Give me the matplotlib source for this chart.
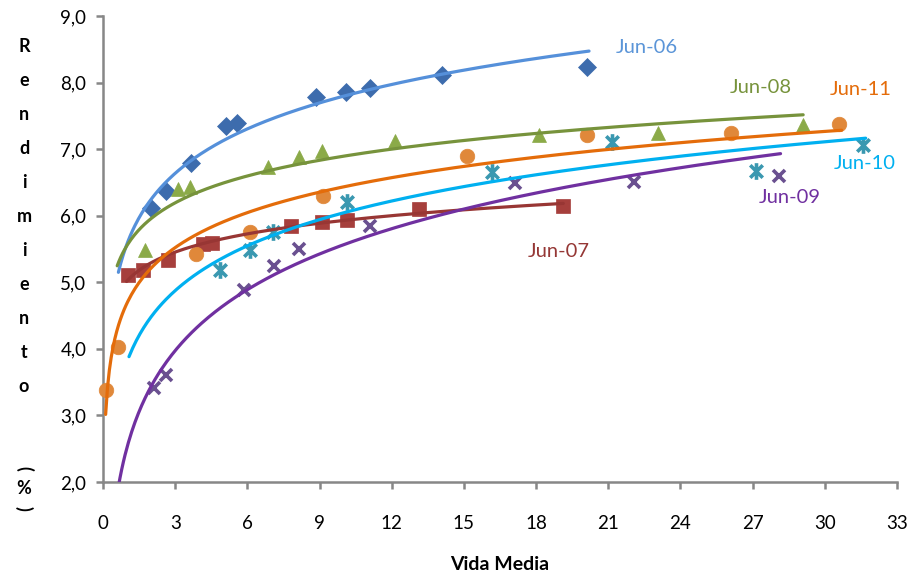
import numpy as np
import matplotlib
matplotlib.use("Agg")
import matplotlib.pyplot as plt
from matplotlib.path import Path

plt.rcParams['font.family'] = ['Lato', 'DejaVu Sans']

# Yield observations per curve date: average life (years) vs yield (%)
series_names = ["Jun-06", "Jun-07", "Jun-08", "Jun-09", "Jun-10", "Jun-11"]

jun06_x = [1.99, 2.61, 3.65, 5.10, 5.56, 8.84, 10.08, 11.08, 14.10, 20.10]
jun06_y = [6.12, 6.37, 6.79, 7.35, 7.39, 7.78, 7.86, 7.92, 8.11, 8.23]

jun07_x = [1.05, 1.65, 2.71, 4.16, 4.55, 7.83, 9.12, 10.14, 13.12, 19.13]
jun07_y = [5.11, 5.19, 5.34, 5.58, 5.59, 5.85, 5.90, 5.94, 6.10, 6.15]

jun08_x = [1.76, 3.11, 3.61, 6.85, 8.13, 9.09, 12.12, 18.13, 23.07, 29.10]
jun08_y = [5.49, 6.40, 6.43, 6.73, 6.88, 6.97, 7.12, 7.21, 7.24, 7.36]

jun09_x = [2.13, 2.60, 5.86, 7.11, 8.15, 11.11, 17.14, 22.07, 28.10]
jun09_y = [3.41, 3.61, 4.89, 5.25, 5.50, 5.84, 6.49, 6.51, 6.59]

jun10_x = [4.88, 6.10, 7.05, 10.14, 16.17, 21.15, 27.15, 31.60]
jun10_y = [5.18, 5.49, 5.76, 6.21, 6.65, 7.11, 6.67, 7.06]

jun11_x = [0.11, 0.61, 3.85, 6.13, 9.14, 15.12, 20.10, 26.10, 30.60]
jun11_y = [3.38, 4.03, 5.43, 5.76, 6.29, 6.89, 7.21, 7.25, 7.38]

# span of each logarithmic trend line (in years)
trend_start = [0.64, 0.98, 0.59, 0.50, 1.08, 0.11]
trend_end = [20.20, 19.13, 29.10, 28.16, 31.70, 30.70]

# label anchor for each curve (data coordinates)
label_x = [22.6, 18.96, 27.35, 28.55, 31.65, 31.5]
label_y = [8.52, 5.46, 7.93, 6.27, 6.79, 7.89]

x_ticks = list(range(0, 34, 3))
y_ticks = [2, 3, 4, 5, 6, 7, 8, 9]

xs = [jun06_x, jun07_x, jun08_x, jun09_x, jun10_x, jun11_x]
ys = [jun06_y, jun07_y, jun08_y, jun09_y, jun10_y, jun11_y]

marker_colors = ["#3D6CAD", "#A63F3C", "#8BAA48", "#6A5090", "#3A98B0", "#E0883A"]
line_colors = ["#5590DA", "#983634", "#77933C", "#7030A0", "#00B0F0", "#E46C0A"]
label_colors = ["#5B95D8", "#953735", "#77933C", "#7030A0", "#00B0F0", "#E46C0A"]

# asterisk-style marker: vertical bar plus an X
star_path = Path(
    [(0, -1), (0, 1), (-0.75, -0.75), (0.75, 0.75), (-0.75, 0.75), (0.75, -0.75)],
    [Path.MOVETO, Path.LINETO, Path.MOVETO, Path.LINETO, Path.MOVETO, Path.LINETO],
)

marker_styles = [
    dict(marker="D", markersize=9),
    dict(marker="s", markersize=9.5),
    dict(marker="^", markersize=10),
    dict(marker="x", markersize=9, markeredgewidth=2.6),
    dict(marker=star_path, markersize=12, markeredgewidth=2.6),
    dict(marker="o", markersize=10.5),
]

fig = plt.figure(figsize=(9.11, 5.79), dpi=100)
ax = fig.add_axes([103 / 911, 1 - 482 / 579, 794 / 911, 466 / 579])

for i in range(len(series_names)):
    x = np.array(xs[i])
    y = np.array(ys[i])
    st = marker_styles[i]
    if st["marker"] == "x" or st["marker"] is star_path:
        ax.plot(x, y, linestyle="none", color=marker_colors[i],
                markeredgecolor=marker_colors[i], zorder=3, clip_on=False, **st)
    else:
        ax.plot(x, y, linestyle="none", color=marker_colors[i],
                markeredgecolor=marker_colors[i], markeredgewidth=0.5,
                zorder=3, clip_on=False, **st)
    # logarithmic least-squares trend line
    b, a = np.polyfit(np.log(x), y, 1)
    xt = np.linspace(trend_start[i], trend_end[i], 400)
    ax.plot(xt, a + b * np.log(xt), color=line_colors[i], linewidth=2.3,
            solid_capstyle="round", zorder=4)
    ax.text(label_x[i], label_y[i], series_names[i], color=label_colors[i],
            fontsize=14.5, ha="center", va="center", zorder=5)

ax.set_xlim(0, 33)
ax.set_ylim(2, 9)
ax.set_xticks(x_ticks)
ax.set_xticklabels([str(t) for t in x_ticks])
ax.set_yticks(y_ticks)
ax.set_yticklabels([f"{t:.1f}".replace(".", ",") for t in y_ticks])

for side in ("top", "right"):
    ax.spines[side].set_visible(False)
for side in ("left", "bottom"):
    ax.spines[side].set_color("#878787")
    ax.spines[side].set_linewidth(1.8)
ax.tick_params(axis="both", colors="#878787", length=5, width=1.8,
               labelcolor="black", labelsize=13.5)
ax.tick_params(axis="y", pad=7)
ax.tick_params(axis="x", pad=19)

ax.set_xlabel("Vida Media", fontsize=14, fontweight="bold", labelpad=17)

# stacked vertical axis title
title_chars = list("Rendimiento")
y0 = 47
step = 33.9
for k, ch in enumerate(title_chars):
    fig.text(24 / 911, 1 - (y0 + k * step) / 579, ch, fontsize=13,
             fontweight="bold", ha="center", va="center")
fig.text(24 / 911, 1 - 468 / 579, "(", fontsize=13, fontweight="bold",
         ha="center", va="center", rotation=-90)
fig.text(24 / 911, 1 - 489 / 579, "%", fontsize=13, fontweight="bold",
         ha="center", va="center")
fig.text(24 / 911, 1 - 508 / 579, ")", fontsize=13, fontweight="bold",
         ha="center", va="center", rotation=-90)

fig.savefig("out.png", dpi=100)
